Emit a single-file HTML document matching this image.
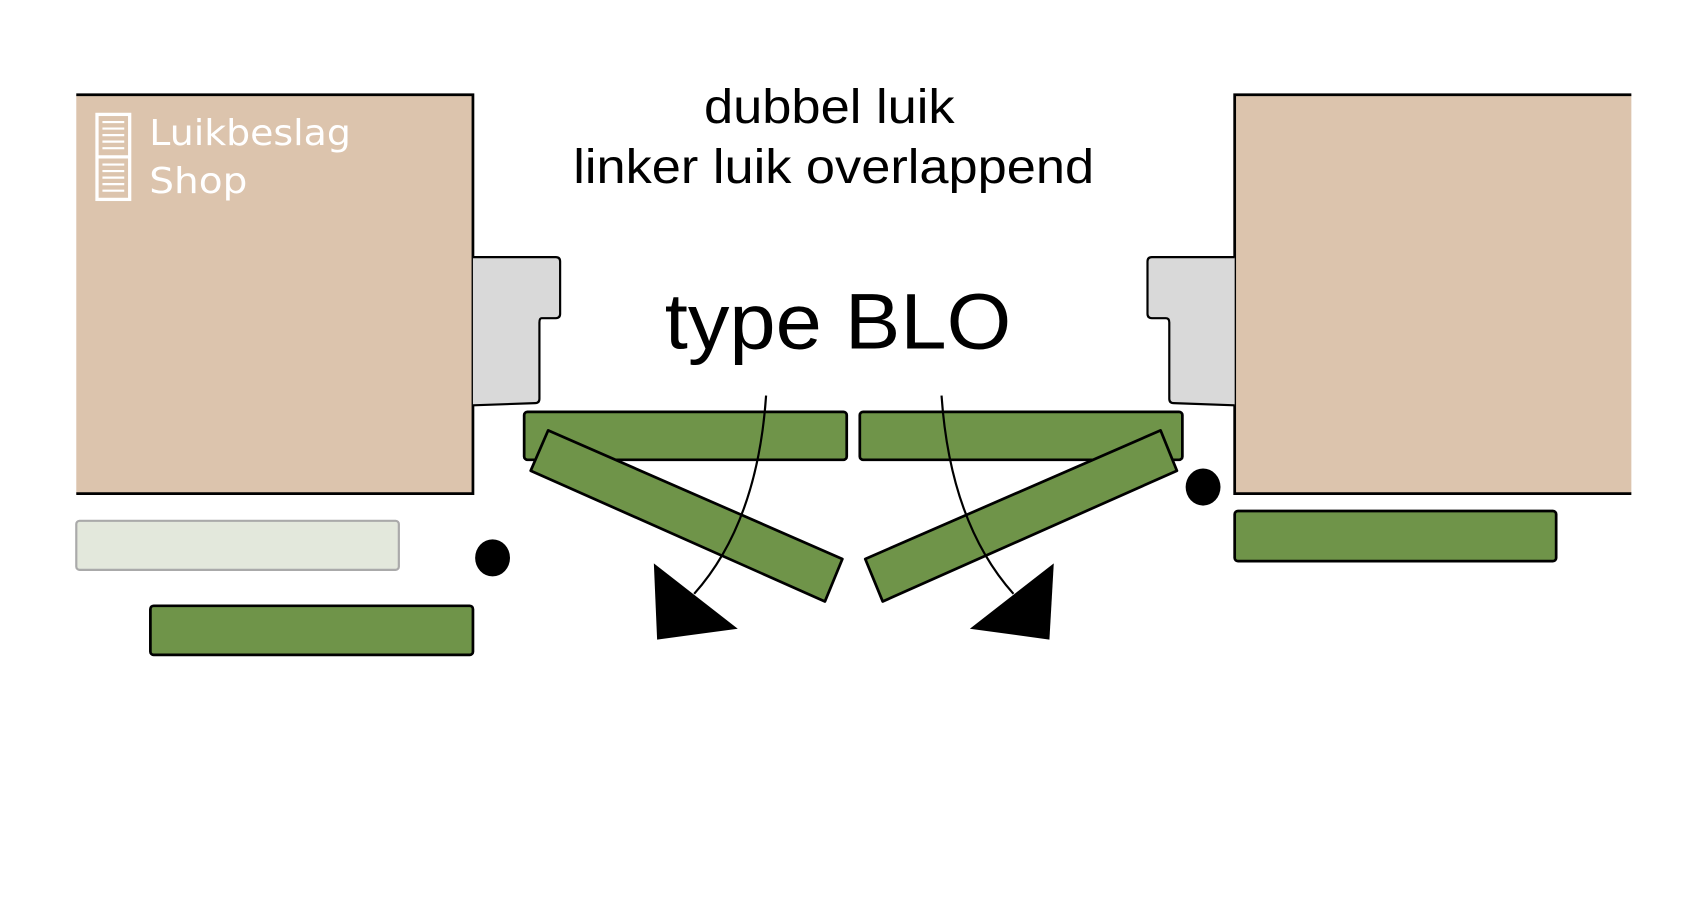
<!DOCTYPE html>
<html><head><style>html,body{margin:0;padding:0;background:#fff;}svg{display:block}</style></head>
<body>
<svg width="1700" height="900" viewBox="0 0 1560 826" preserveAspectRatio="none" xmlns="http://www.w3.org/2000/svg">
<rect x="0" y="0" width="1560" height="826" fill="#fff"/>
<!-- walls -->
<rect x="70" y="87" width="364" height="366" fill="#dcc4ad"/>
<polyline points="70,87 434,87 434,453 70,453" fill="none" stroke="#000" stroke-width="2.5"/>
<rect x="1133" y="87" width="364" height="366" fill="#dcc4ad"/>
<polyline points="1497,87 1133,87 1133,453 1497,453" fill="none" stroke="#000" stroke-width="2.5"/>
<!-- frames -->
<path d="M434,236 L510,236 Q514,236 514,240 L514,288 Q514,292 510,292 L497,292 Q495,292 495,296 L495,366 Q495,370 491,370 L434,372" fill="#d9d9d9" stroke="#000" stroke-width="2"/>
<path d="M1133,236 L1057,236 Q1053,236 1053,240 L1053,288 Q1053,292 1057,292 L1070,292 Q1073,292 1073,296 L1073,366 Q1073,370 1077,370 L1133,372" fill="#d9d9d9" stroke="#000" stroke-width="2"/>
<!-- green shutters -->
<g fill="#6f9449" stroke="#000" stroke-width="2.5">
<rect x="481" y="378" width="296" height="44" rx="3"/>
<rect x="789" y="378" width="296" height="44" rx="3"/>
<polygon points="503,395 487,432 757,552 773,513" stroke-linejoin="round"/>
<polygon points="1065,395 1080,432 810,552 794,513" stroke-linejoin="round"/>
<rect x="1133" y="469" width="295" height="46" rx="3"/>
<rect x="138" y="556" width="296" height="45" rx="3"/>
</g>
<rect x="70" y="478" width="296" height="45" rx="3" fill="#e3e8dc" stroke="#aaa" stroke-width="2"/>
<!-- dots -->
<ellipse cx="452" cy="512" rx="16" ry="17" fill="#000"/>
<ellipse cx="1104" cy="447" rx="16" ry="17" fill="#000"/>
<!-- curves & arrows -->
<path d="M703,363 Q695,480 637,545" fill="none" stroke="#000" stroke-width="2"/>
<polygon points="600,517 603,587 677,577" fill="#000"/>
<path d="M864,363 Q872,480 930,545" fill="none" stroke="#000" stroke-width="2"/>
<polygon points="967,517 963,587 890,577" fill="#000"/>
<!-- text -->
<g font-family="Liberation Sans, Arial, sans-serif" fill="#000">
<text x="761" y="113" font-size="44" text-anchor="middle" textLength="230" lengthAdjust="spacingAndGlyphs">dubbel luik</text>
<text x="765" y="168" font-size="44" text-anchor="middle" textLength="478" lengthAdjust="spacingAndGlyphs">linker luik overlappend</text>
<text x="769" y="320" font-size="72" text-anchor="middle" textLength="318" lengthAdjust="spacingAndGlyphs">type BLO</text>
</g>
<!-- logo -->
<g fill="none" stroke="#fff" stroke-width="3">
<rect x="89" y="105" width="30" height="78"/>
<line x1="89" y1="144" x2="119" y2="144"/>
</g>
<g stroke="#fff" stroke-width="2">
<line x1="94" y1="112" x2="114" y2="112"/><line x1="94" y1="118" x2="114" y2="118"/><line x1="94" y1="124" x2="114" y2="124"/><line x1="94" y1="130" x2="114" y2="130"/><line x1="94" y1="136" x2="114" y2="136"/>
<line x1="94" y1="151" x2="114" y2="151"/><line x1="94" y1="157" x2="114" y2="157"/><line x1="94" y1="163" x2="114" y2="163"/><line x1="94" y1="169" x2="114" y2="169"/><line x1="94" y1="175" x2="114" y2="175"/>
</g>
<g font-family="DejaVu Sans, Liberation Sans, sans-serif" fill="#fff" font-size="33">
<text x="137" y="133" textLength="185" lengthAdjust="spacingAndGlyphs">Luikbeslag</text>
<text x="137" y="177" textLength="90" lengthAdjust="spacingAndGlyphs">Shop</text>
</g>
</svg>
</body></html>
